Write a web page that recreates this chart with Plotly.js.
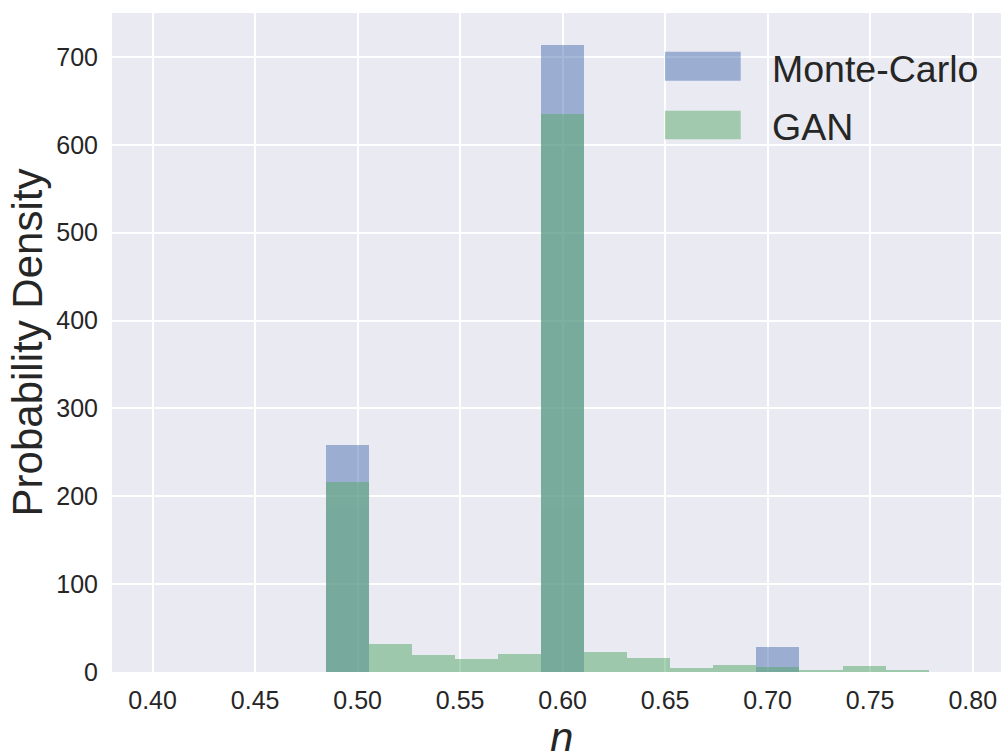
<!DOCTYPE html>
<html>
<head>
<meta charset="utf-8">
<script src="https://cdn.plot.ly/plotly-3.0.1.min.js"></script>
<style>
  html, body { margin: 0; padding: 0; background: #ffffff; }
  #chart { width: 1001px; height: 751px; }
</style>
</head>
<body>
<div id="chart"></div>
<script>
// ---- data ----
const binCenters = [0.495, 0.516, 0.537, 0.558, 0.579, 0.600, 0.621, 0.642, 0.663, 0.684, 0.705, 0.726, 0.747, 0.768];
const binWidth = 0.021;
const monteCarloDensity = [258.5, 0, 0, 0, 0, 714, 0, 0, 0, 0, 28, 0, 0, 0];
const ganDensity = [216, 31.5, 19, 15.2, 20.2, 635.5, 23.1, 15.6, 4.2, 7.5, 5.7, 2.7, 6.6, 2.7];
const seriesNames = ["Monte-Carlo", "GAN"];
const xTickVals = [0.40, 0.45, 0.50, 0.55, 0.60, 0.65, 0.70, 0.75, 0.80];
const yTickVals = [0, 100, 200, 300, 400, 500, 600, 700];

const blue = "#4C72B0";
const green = "#55A868";
const textColor = "#262626";
const font = "Liberation Sans, Arial, sans-serif";

const traces = [
  {
    type: "bar", name: seriesNames[0], x: binCenters, y: monteCarloDensity,
    width: binCenters.map(() => binWidth),
    marker: { color: blue, line: { width: 0 } }, opacity: 0.5,
    showlegend: false, hoverinfo: "x+y"
  },
  {
    type: "bar", name: seriesNames[1], x: binCenters, y: ganDensity,
    width: binCenters.map(() => binWidth),
    marker: { color: green, line: { width: 0 } }, opacity: 0.5,
    showlegend: false, hoverinfo: "x+y"
  }
];

const layout = {
  width: 1001, height: 751,
  margin: { l: 112, r: 0, t: 13, b: 79, pad: 0 },
  paper_bgcolor: "#ffffff",
  plot_bgcolor: "#EAEAF2",
  barmode: "overlay",
  bargap: 0,
  font: { family: font, color: textColor, size: 25 },
  xaxis: {
    range: [0.3802, 0.8138],
    tickvals: xTickVals,
    tickformat: ".2f",
    ticks: "", showline: false, zeroline: false,
    gridcolor: "#ffffff", gridwidth: 2,
    tickfont: { family: font, size: 25, color: textColor },
    ticklabelstandoff: 11
  },
  yaxis: {
    range: [0, 750],
    tickvals: yTickVals,
    ticks: "", showline: false, zeroline: false,
    gridcolor: "#ffffff", gridwidth: 2,
    tickfont: { family: font, size: 25, color: textColor },
    ticklabelstandoff: 13,
    title: { text: "Probability Density", font: { family: font, size: 42, color: textColor }, standoff: 0 }
  },
  shapes: [
    { type: "rect", xref: "paper", yref: "paper", x0: 0.622, x1: 0.7072, y0: 0.8973, y1: 0.9413,
      fillcolor: blue, opacity: 0.5, line: { width: 0 } },
    { type: "rect", xref: "paper", yref: "paper", x0: 0.622, x1: 0.7072, y0: 0.8083, y1: 0.8518,
      fillcolor: green, opacity: 0.5, line: { width: 0 } }
  ],
  annotations: [
    { xref: "paper", yref: "paper", x: 0.740, y: 0.9155, xanchor: "left", yanchor: "middle",
      text: seriesNames[0], showarrow: false, font: { family: font, size: 37.5, color: textColor } },
    { xref: "paper", yref: "paper", x: 0.740, y: 0.8275, xanchor: "left", yanchor: "middle",
      text: seriesNames[1], showarrow: false, font: { family: font, size: 37.5, color: textColor } },
    { xref: "paper", yref: "paper", x: 0.506, y: -0.060, xanchor: "center", yanchor: "top",
      text: "<i>n</i>", showarrow: false, font: { family: font, size: 42, color: textColor } }
  ]
};

Plotly.newPlot("chart", traces, layout, { displayModeBar: false, staticPlot: true });
</script>
</body>
</html>
